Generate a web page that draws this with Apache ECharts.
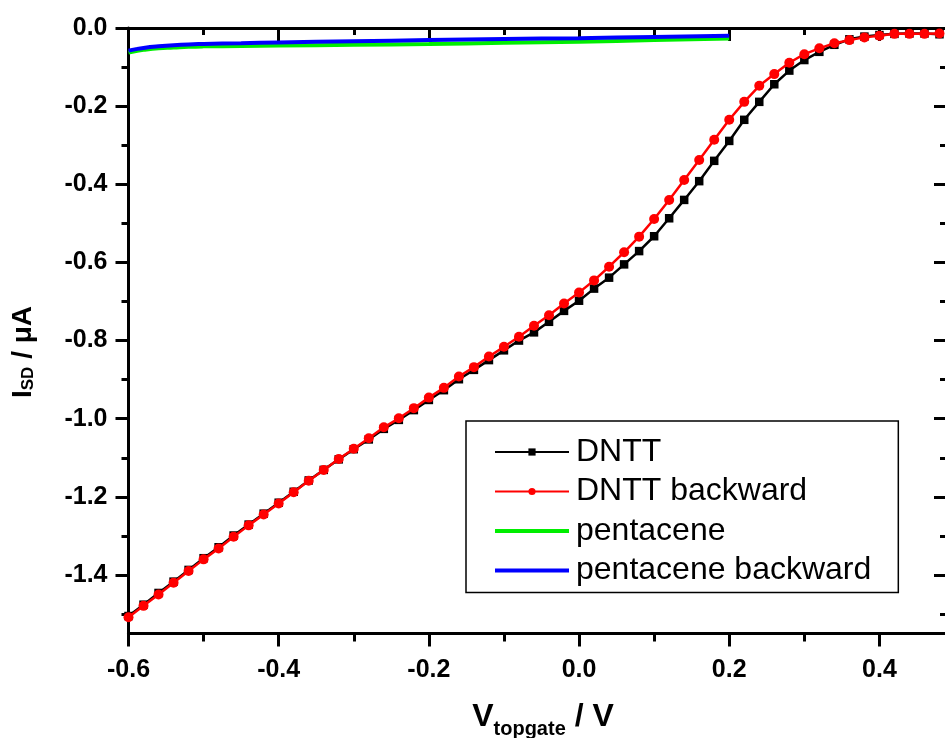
<!DOCTYPE html>
<html>
<head>
<meta charset="utf-8">
<script src="https://cdn.jsdelivr.net/npm/echarts@6/dist/echarts.min.js"></script>
<style>
  html, body { margin: 0; padding: 0; background: #fff; }
  #chart { width: 945px; height: 738px; }
</style>
</head>
<body>
<div id="chart"></div>
<script>
// Top-gate voltage sweep (V) for the DNTT transistor
const vGate = [
  -0.60, -0.58, -0.56, -0.54, -0.52, -0.50, -0.48, -0.46, -0.44, -0.42,
  -0.40, -0.38, -0.36, -0.34, -0.32, -0.30, -0.28, -0.26, -0.24, -0.22,
  -0.20, -0.18, -0.16, -0.14, -0.12, -0.10, -0.08, -0.06, -0.04, -0.02,
   0.00,  0.02,  0.04,  0.06,  0.08,  0.10,  0.12,  0.14,  0.16,  0.18,
   0.20,  0.22,  0.24,  0.26,  0.28,  0.30,  0.32,  0.34,  0.36,  0.38,
   0.40,  0.42,  0.44,  0.46,  0.48
];

// Source-drain current (µA), forward sweep
const dnttForward = [
  -1.505, -1.476, -1.446, -1.417, -1.387, -1.357, -1.329, -1.299, -1.271, -1.243,
  -1.215, -1.187, -1.158, -1.131, -1.104, -1.078, -1.053, -1.026, -1.003, -0.978,
  -0.952, -0.927, -0.899, -0.875, -0.850, -0.825, -0.800, -0.779, -0.752, -0.724,
  -0.698, -0.667, -0.639, -0.605, -0.571, -0.533, -0.487, -0.440, -0.392, -0.340,
  -0.289, -0.235, -0.189, -0.144, -0.109, -0.082, -0.061, -0.043, -0.029, -0.022,
  -0.018, -0.015, -0.014, -0.014, -0.016
];

// Source-drain current (µA), backward sweep
const dnttBackward = [
  -1.508, -1.479, -1.450, -1.420, -1.390, -1.360, -1.332, -1.302, -1.273, -1.245,
  -1.217, -1.188, -1.159, -1.131, -1.103, -1.077, -1.050, -1.022, -0.999, -0.973,
  -0.946, -0.921, -0.892, -0.868, -0.841, -0.816, -0.790, -0.762, -0.735, -0.705,
  -0.677, -0.646, -0.611, -0.574, -0.534, -0.489, -0.440, -0.389, -0.338, -0.286,
  -0.235, -0.189, -0.148, -0.118, -0.089, -0.067, -0.052, -0.039, -0.031, -0.024,
  -0.020, -0.015, -0.015, -0.015, -0.014
];

// Pentacene device sweep (V) and currents (µA)
const vPentacene = [-0.60, -0.59, -0.58, -0.56, -0.54, -0.52, -0.50, -0.45, -0.40, -0.30, -0.20, -0.10, 0.00, 0.10, 0.20];
const pentaceneForward  = [-0.063, -0.059, -0.056, -0.052, -0.050, -0.048, -0.047, -0.046, -0.045, -0.043, -0.041, -0.038, -0.035, -0.031, -0.027];
const pentaceneBackward = [-0.058, -0.054, -0.051, -0.047, -0.044, -0.042, -0.041, -0.039, -0.037, -0.034, -0.031, -0.028, -0.026, -0.023, -0.020];

// Axis ticks
const xMajor = [-0.6, -0.4, -0.2, 0.0, 0.2, 0.4];
const xMinor = [-0.5, -0.3, -0.1, 0.1, 0.3];
const yMajor = [0.0, -0.2, -0.4, -0.6, -0.8, -1.0, -1.2, -1.4];
const yMinor = [-0.1, -0.3, -0.5, -0.7, -0.9, -1.1, -1.3, -1.5];

const seriesNames = ['DNTT', 'DNTT backward', 'pentacene', 'pentacene backward'];

const pairs = (xs, ys) => xs.map((x, i) => [x, ys[i]]);
const FONT = "'Liberation Sans', Arial, sans-serif";
const AX = { color: '#000', width: 3 };
const X_RANGE = { min: -0.6, max: 0.49 };
const Y_RANGE = { min: -1.55, max: 0 };

function tickAxis(base, values, len, inside, showLine, labels) {
  return Object.assign({
    type: 'value',
    axisLine: { show: showLine, onZero: false, lineStyle: AX },
    axisTick: { show: true, inside: inside, length: len, customValues: values, lineStyle: AX },
    axisLabel: labels ? Object.assign({ customValues: values }, labels) : { show: false },
    splitLine: { show: false },
    minorTick: { show: false }
  }, base);
}

const tickLabelStyle = {
  show: true,
  color: '#000',
  fontSize: 25,
  fontWeight: 'bold',
  fontFamily: FONT,
  formatter: v => v.toFixed(1)
};

const chart = echarts.init(document.getElementById('chart'));

chart.setOption({
  animation: false,
  backgroundColor: '#fff',
  grid: {
    left: 128.5, top: 28, width: 818.5, height: 605.6,
    outerBoundsMode: 'none', containLabel: false
  },
  xAxis: [
    tickAxis(Object.assign({ position: 'bottom' }, X_RANGE), xMajor, 13, false, true,
      Object.assign({ margin: 24 }, tickLabelStyle)),
    tickAxis(Object.assign({ position: 'bottom' }, X_RANGE), xMinor, 8, false, false, null),
    tickAxis(Object.assign({ position: 'top' }, X_RANGE), xMajor, 13, true, true, null),
    tickAxis(Object.assign({ position: 'top' }, X_RANGE), xMinor, 7, true, false, null)
  ],
  yAxis: [
    tickAxis(Object.assign({ position: 'left' }, Y_RANGE), yMajor, 13, false, true,
      Object.assign({ margin: 21 }, tickLabelStyle)),
    tickAxis(Object.assign({ position: 'left' }, Y_RANGE), yMinor, 7, false, false, null),
    tickAxis(Object.assign({ position: 'right' }, Y_RANGE), yMajor, 13, true, true, null),
    tickAxis(Object.assign({ position: 'right' }, Y_RANGE), yMinor, 7, true, false, null)
  ],
  legend: {
    data: [
      { name: seriesNames[0] },
      { name: seriesNames[1] },
      { name: seriesNames[2], itemStyle: { opacity: 0 }, lineStyle: { width: 4 } },
      { name: seriesNames[3], itemStyle: { opacity: 0 }, lineStyle: { width: 4 } }
    ],
    orient: 'vertical',
    left: 466, top: 421,
    padding: [15, 27, 6, 27],
    itemGap: 7.5,
    itemWidth: 74,
    itemHeight: 9,
    borderColor: '#000',
    borderWidth: 1.5,
    backgroundColor: '#fff',
    selectedMode: false,
    textStyle: { color: '#000', fontSize: 32, fontFamily: FONT, padding: [0, 0, 0, 2] }
  },
  graphic: [
    {
      type: 'text',
      x: 543, y: 720,
      style: {
        text: '{m|V}{s|topgate}{m| / V}',
        align: 'center', verticalAlign: 'middle',
        fill: '#000',
        rich: {
          m: { fontSize: 32, fontWeight: 'bold', fontFamily: FONT, fill: '#000', verticalAlign: 'top' },
          s: { fontSize: 20, fontWeight: 'bold', fontFamily: FONT, fill: '#000', padding: [18, 0, 0, 0], verticalAlign: 'top' }
        }
      }
    },
    {
      type: 'text',
      x: 23, y: 352,
      rotation: Math.PI / 2,
      style: {
        text: '{m|I}{s|SD}{m| / μA}',
        align: 'center', verticalAlign: 'middle',
        fill: '#000',
        rich: {
          m: { fontSize: 28, fontWeight: 'bold', fontFamily: FONT, fill: '#000', verticalAlign: 'bottom' },
          s: { fontSize: 17, fontWeight: 'bold', fontFamily: FONT, fill: '#000', verticalAlign: 'bottom' }
        }
      }
    }
  ],
  series: [
    {
      name: 'DNTT', type: 'line',
      data: pairs(vGate, dnttForward),
      symbol: 'rect', symbolSize: 8.5,
      lineStyle: { color: '#000', width: 2.5 },
      itemStyle: { color: '#000' },
      z: 2
    },
    {
      name: 'DNTT backward', type: 'line',
      data: pairs(vGate, dnttBackward),
      symbol: 'circle', symbolSize: 10,
      lineStyle: { color: '#ff0000', width: 2.5 },
      itemStyle: { color: '#ff0000' },
      z: 3
    },
    {
      name: 'pentacene', type: 'line',
      data: pairs(vPentacene, pentaceneForward),
      symbol: 'none', smooth: true,
      lineStyle: { color: '#00ee00', width: 4 },
      itemStyle: { color: '#00ee00' },
      z: 4
    },
    {
      name: 'pentacene backward', type: 'line',
      data: pairs(vPentacene, pentaceneBackward),
      symbol: 'none', smooth: true,
      lineStyle: { color: '#0000ff', width: 4 },
      itemStyle: { color: '#0000ff' },
      z: 5
    }
  ]
});
</script>
</body>
</html>
